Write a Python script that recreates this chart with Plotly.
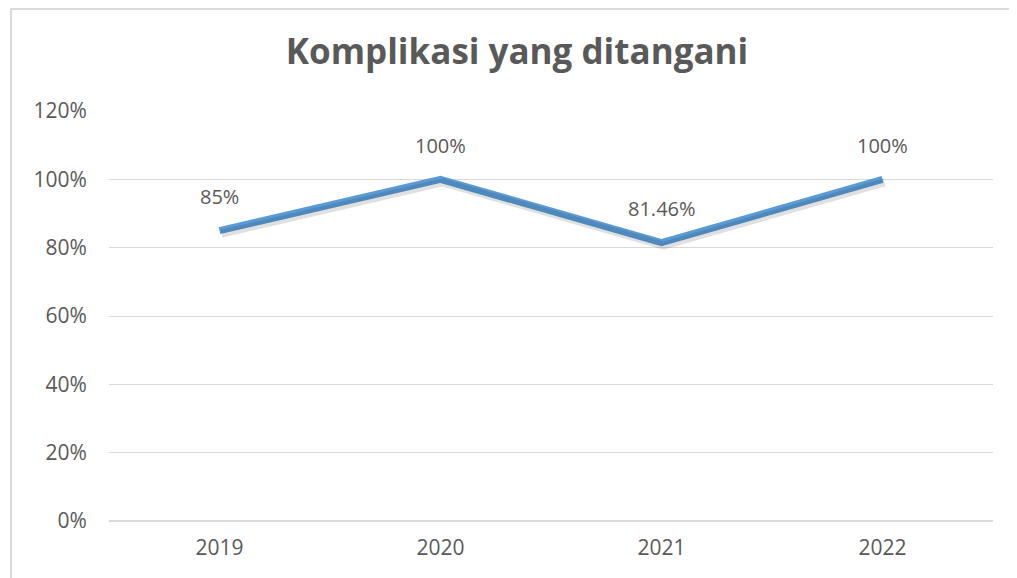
import plotly.graph_objects as go

years = ["2019", "2020", "2021", "2022"]
values = [0.85, 1.00, 0.8146, 1.00]
labels = ["85%", "100%", "81.46%", "100%"]

# the page puts the figure 8px in from the top-left corner
W, H = 1017, 578
L, T = 101, 103
pw, ph = 884, 410
R, B = W - L - pw, H - T - ph

font = "'Open Sans', Lato, sans-serif"
grey = "#595959"

fig = go.Figure()

# soft shadow under the line (same data, on overlaid axes shifted a few px)
fig.add_trace(go.Scatter(x=years, y=values, mode="lines", xaxis="x2", yaxis="y2",
                         line=dict(color="rgba(0,0,0,0.12)", width=8),
                         hoverinfo="skip", showlegend=False))
fig.add_trace(go.Scatter(x=years, y=values, mode="lines",
                         line=dict(color="#5B9BD5", width=7),
                         showlegend=False))

# data labels; x given as category index so "2019" is not read as a number
for i, (v, lab) in enumerate(zip(values, labels)):
    fig.add_annotation(x=i, y=v, text=lab, showarrow=False, yshift=34,
                       font=dict(family=font, size=20, color=grey))

# outer chart border
fig.add_shape(type="rect", xref="paper", yref="paper",
              x0=(3 - L) / pw, x1=1.2, y0=-0.3, y1=(T + ph - 1) / ph,
              line=dict(color="#D9D9D9", width=2), fillcolor="rgba(0,0,0,0)")

ys = 3 / ph * 1.2
xs = 2 / pw * len(years)
fig.update_layout(
    width=W, height=H,
    margin=dict(l=L, r=R, t=T, b=B),
    paper_bgcolor="white", plot_bgcolor="white",
    title=dict(text="<b>Komplikasi yang ditangani</b>", x=(509 - L) / pw,
               xref="paper", xanchor="center",
               y=1 - 44 / H, yanchor="middle",
               font=dict(family=font, size=35, color=grey)),
    xaxis=dict(type="category", range=[-0.5, len(years) - 0.5],
               showgrid=False, zeroline=False, showline=False,
               ticks="outside", ticklen=8, tickcolor="rgba(0,0,0,0)",
               tickfont=dict(family=font, size=21, color=grey)),
    xaxis2=dict(type="category", range=[-0.5 - xs, len(years) - 0.5 - xs],
                overlaying="x", visible=False),
    yaxis=dict(range=[0, 1.2], dtick=0.2, tickformat=".0%",
               showgrid=True, gridcolor="#D9D9D9", gridwidth=1,
               zeroline=True, zerolinecolor="#D9D9D9", zerolinewidth=1.5,
               showline=False, ticks="outside", ticklen=17,
               tickcolor="rgba(0,0,0,0)",
               tickfont=dict(family=font, size=21, color=grey)),
    yaxis2=dict(range=[0 + ys, 1.2 + ys], overlaying="y", visible=False),
)

fig.write_html("out.html")
